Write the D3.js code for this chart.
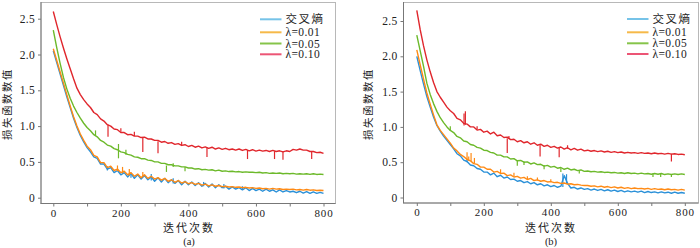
<!DOCTYPE html>
<html>
<head>
<meta charset="utf-8">
<script src="https://cdn.jsdelivr.net/npm/d3@7"></script>
<style>
  body { margin: 0; background: #fff; }
  svg { display: block; }
</style>
</head>
<body>
<svg id="chart" width="700" height="248"></svg>
<script>
// iterations sampled every 10 steps
var iters = d3.range(0, 801, 10);
var seriesNames = ["交叉熵", "λ=0.01", "λ=0.05", "λ=0.10"];
var xTicks = [0, 100, 200, 300, 400, 500, 600, 700, 800];
var yTicks = [0, 0.5, 1.0, 1.5, 2.0, 2.5];

// (a) left panel
var aCE = [2.05,1.89,1.73,1.57,1.41,1.26,1.11,0.98,0.87,0.78,0.70,
  0.64,0.57,0.55,0.47,0.47,0.40,0.42,0.35,0.38,0.32,
  0.35,0.29,0.34,0.27,0.32,0.26,0.31,0.25,0.29,0.23,
  0.28,0.22,0.27,0.21,0.25,0.20,0.24,0.18,0.23,0.18,
  0.22,0.17,0.21,0.16,0.20,0.15,0.19,0.14,0.18,0.14,
  0.16,0.12,0.15,0.12,0.14,0.11,0.14,0.10,0.13,0.10,
  0.12,0.09,0.12,0.09,0.11,0.08,0.11,0.08,0.10,0.08,
  0.09,0.07,0.09,0.065,0.085,0.06,0.08,0.06,0.075,0.06];
var a01 = [2.08,1.92,1.76,1.60,1.44,1.28,1.13,1.00,0.89,0.80,0.72,
  0.67,0.59,0.57,0.49,0.49,0.42,0.44,0.38,0.40,0.35,
  0.37,0.32,0.35,0.30,0.33,0.28,0.32,0.27,0.30,0.26,
  0.28,0.245,0.27,0.23,0.25,0.215,0.24,0.205,0.225,0.195,
  0.21,0.185,0.20,0.175,0.19,0.165,0.18,0.16,0.17,0.155,
  0.16,0.15,0.155,0.145,0.15,0.14,0.145,0.135,0.14,0.13,
  0.135,0.125,0.13,0.12,0.13,0.12,0.125,0.115,0.12,0.115,
  0.12,0.11,0.115,0.105,0.115,0.105,0.11,0.10,0.105,0.10];
var a05 = [2.34,2.10,1.88,1.68,1.52,1.39,1.28,1.19,1.11,1.04,0.98,
  0.935,0.88,0.85,0.80,0.775,0.735,0.72,0.685,0.67,0.64,
  0.63,0.605,0.595,0.57,0.565,0.545,0.545,0.525,0.52,0.50,
  0.50,0.48,0.48,0.46,0.46,0.445,0.445,0.43,0.43,0.415,
  0.415,0.40,0.405,0.39,0.395,0.385,0.39,0.375,0.385,0.37,
  0.375,0.365,0.37,0.36,0.365,0.355,0.36,0.355,0.355,0.35,
  0.355,0.345,0.35,0.34,0.345,0.34,0.345,0.335,0.34,0.335,
  0.34,0.33,0.335,0.33,0.335,0.325,0.335,0.325,0.33,0.325];
var a10 = [2.60,2.42,2.25,2.09,1.94,1.80,1.66,1.53,1.44,1.37,1.31,
  1.26,1.19,1.16,1.10,1.07,1.02,1.00,0.96,0.95,0.91,
  0.91,0.88,0.885,0.86,0.86,0.84,0.845,0.82,0.82,0.80,
  0.80,0.775,0.785,0.76,0.77,0.745,0.755,0.73,0.74,0.715,
  0.73,0.705,0.72,0.695,0.71,0.69,0.705,0.68,0.695,0.675,
  0.69,0.67,0.68,0.665,0.68,0.66,0.675,0.655,0.67,0.65,
  0.665,0.65,0.66,0.645,0.66,0.645,0.655,0.64,0.655,0.645,
  0.675,0.665,0.68,0.665,0.665,0.645,0.645,0.63,0.635,0.62];

// single-step spikes: [iteration, from, to]
var aCESpikes = [[160,0.38,0.44],[230,0.28,0.35],[290,0.24,0.33],[355,0.20,0.27],[445,0.16,0.22],[505,0.13,0.19],[560,0.11,0.16]];
var a01Spikes = [[190,0.37,0.45],[205,0.34,0.43],[225,0.31,0.40],[265,0.29,0.36]];
var a05Spikes = [[125,0.87,0.94],[193,0.55,0.75],[215,0.60,0.67],[335,0.36,0.45],[355,0.43,0.48],[390,0.37,0.43]];
var a10Spikes = [[162,0.85,1.02],[200,0.92,0.97],[240,0.86,0.92],[265,0.64,0.84],[310,0.62,0.79],[380,0.735,0.78],
  [455,0.57,0.70],[575,0.54,0.665],[655,0.54,0.65],[680,0.53,0.65],[765,0.54,0.64]];

// (b) right panel
var bCE = [2.00,1.80,1.61,1.43,1.28,1.14,1.02,0.94,0.87,0.81,0.75,
  0.69,0.62,0.59,0.53,0.51,0.46,0.45,0.41,0.40,0.36,
  0.36,0.32,0.345,0.295,0.315,0.275,0.29,0.255,0.26,0.23,
  0.24,0.21,0.225,0.195,0.21,0.18,0.195,0.165,0.18,0.155,
  0.17,0.145,0.16,0.31,0.20,0.135,0.145,0.12,0.135,0.115,
  0.125,0.105,0.12,0.10,0.115,0.095,0.11,0.09,0.105,0.085,
  0.10,0.08,0.095,0.08,0.09,0.075,0.09,0.07,0.085,0.07,
  0.08,0.065,0.08,0.065,0.075,0.06,0.075,0.06,0.07,0.06];
var b01 = [2.09,1.88,1.68,1.48,1.32,1.17,1.03,0.95,0.89,0.83,0.77,
  0.70,0.66,0.61,0.58,0.54,0.52,0.48,0.47,0.43,0.43,
  0.40,0.40,0.36,0.37,0.34,0.345,0.31,0.32,0.29,0.30,
  0.275,0.285,0.255,0.27,0.24,0.25,0.23,0.24,0.22,0.225,
  0.21,0.215,0.20,0.205,0.19,0.195,0.18,0.185,0.175,0.17,
  0.17,0.16,0.165,0.15,0.16,0.145,0.155,0.14,0.15,0.135,
  0.145,0.13,0.14,0.125,0.135,0.125,0.13,0.12,0.13,0.115,
  0.125,0.115,0.12,0.11,0.12,0.11,0.115,0.105,0.115,0.105];
var b05 = [2.30,2.08,1.86,1.62,1.46,1.33,1.22,1.13,1.06,1.00,0.95,
  0.92,0.865,0.845,0.80,0.79,0.75,0.74,0.71,0.70,0.67,
  0.665,0.64,0.63,0.60,0.60,0.575,0.575,0.545,0.55,0.52,
  0.525,0.50,0.505,0.475,0.49,0.465,0.47,0.445,0.455,0.43,
  0.44,0.415,0.425,0.40,0.415,0.39,0.40,0.38,0.39,0.37,
  0.375,0.365,0.37,0.36,0.365,0.355,0.36,0.35,0.355,0.345,
  0.35,0.34,0.35,0.34,0.345,0.335,0.345,0.335,0.34,0.33,
  0.34,0.33,0.34,0.325,0.335,0.325,0.335,0.325,0.335,0.325];
var b10 = [2.65,2.38,2.15,1.95,1.78,1.63,1.50,1.42,1.35,1.28,1.23,
  1.19,1.12,1.10,1.05,1.04,1.00,1.00,0.955,0.965,0.925,
  0.94,0.90,0.925,0.875,0.885,0.85,0.855,0.82,0.825,0.79,
  0.805,0.775,0.79,0.755,0.775,0.74,0.755,0.725,0.74,0.71,
  0.725,0.70,0.715,0.685,0.705,0.675,0.695,0.67,0.685,0.66,
  0.67,0.655,0.665,0.65,0.66,0.645,0.655,0.64,0.65,0.635,
  0.645,0.63,0.64,0.63,0.635,0.625,0.635,0.625,0.63,0.62,
  0.63,0.62,0.625,0.615,0.625,0.615,0.62,0.61,0.615,0.605];

var bCESpikes = [[150,0.50,0.55],[436,0.15,0.34],[447,0.19,0.33]];
var b01Spikes = [[150,0.53,0.64],[155,0.52,0.58],[162,0.51,0.63],[172,0.48,0.56],[250,0.345,0.40],[290,0.30,0.35],
  [330,0.26,0.30],[360,0.24,0.285],[400,0.22,0.26]];
var b05Spikes = [[100,0.95,1.01],[300,0.45,0.53],[320,0.46,0.51],[380,0.40,0.46],[430,0.36,0.415],[485,0.34,0.39],
  [705,0.29,0.34],[728,0.29,0.34],[760,0.29,0.33]];
var b10Spikes = [[141,1.02,1.19],[145,1.03,1.22],[180,0.965,1.01],[270,0.63,0.84],[275,0.83,0.87],[368,0.58,0.75],
  [425,0.57,0.71],[450,0.69,0.74],[760,0.51,0.62]];

var lineColors = ["#2a90d8", "#ff8a14", "#6cb92a", "#e0262c"];
var legendColors = ["#76c3e8", "#f6b949", "#86c44a", "#ec5575"];
var serif = "'Liberation Serif', 'Times New Roman', 'DejaVu Serif', serif";
var cjk = "'Noto Sans CJK SC', 'Liberation Serif', sans-serif";

var svg = d3.select("#chart");

function drawPanel(p) {
  var x = d3.scaleLinear().domain([0, 800]).range(p.xr);
  var y = d3.scaleLinear().domain([0, 2.5]).range(p.yr);
  var g = svg.append("g");

  // frame
  g.append("rect")
    .attr("x", p.box[0] + 0.5).attr("y", p.box[1] + 0.5)
    .attr("width", p.box[2] - p.box[0]).attr("height", p.box[3] - p.box[1])
    .attr("fill", "none").attr("stroke", "#b8b8b8").attr("stroke-width", 1);
  g.append("line")
    .attr("x1", p.box[0] + 0.5).attr("x2", p.box[0] + 0.5)
    .attr("y1", p.box[1]).attr("y2", p.box[3] + 0.5)
    .attr("stroke", "#777");
  g.append("line")
    .attr("x1", p.box[0]).attr("x2", p.box[2] + 0.5)
    .attr("y1", p.box[3] + 0.5).attr("y2", p.box[3] + 0.5)
    .attr("stroke", "#777");

  var xAxis = g.append("g")
    .attr("transform", "translate(0," + (p.box[3] + 0.5) + ")")
    .call(d3.axisBottom(x).tickValues(xTicks).tickSize(3).tickPadding(2.5)
      .tickFormat(function(d) { return d % 200 === 0 ? d : ""; }));
  xAxis.select(".domain").remove();
  xAxis.selectAll("line").attr("stroke", "#777");
  xAxis.selectAll("text")
    .style("font-family", serif).style("font-size", "11px")
    .style("letter-spacing", "0.8px").attr("fill", "#222");

  var yAxis = g.append("g")
    .attr("transform", "translate(" + (p.box[0] + 0.5) + ",0)")
    .call(d3.axisLeft(y).tickValues(yTicks).tickSize(3).tickPadding(3)
      .tickFormat(function(d) { return d === 0 ? "0" : d3.format(".1f")(d); }));
  yAxis.select(".domain").remove();
  yAxis.selectAll("line").attr("stroke", "#777");
  yAxis.selectAll("text")
    .style("font-family", serif).style("font-size", "11.5px")
    .style("letter-spacing", "0.3px").attr("fill", "#222");

  var line = d3.line()
    .x(function(d) { return x(d[0]); })
    .y(function(d) { return y(d[1]); });

  p.series.forEach(function(s, k) {
    g.append("path")
      .datum(iters.map(function(it, j) { return [it, s[j]]; }))
      .attr("d", line)
      .attr("fill", "none")
      .attr("stroke", lineColors[k])
      .attr("stroke-width", 1.4)
      .attr("stroke-linejoin", "round");
    g.selectAll(null)
      .data(p.spikes[k])
      .enter().append("path")
      .attr("d", function(d) { return line([[d[0], d[1]], [d[0], d[2]]]); })
      .attr("stroke", lineColors[k])
      .attr("stroke-width", 1.2);
  });

  // legend
  var leg = g.append("g");
  seriesNames.forEach(function(name, k) {
    var yy = p.legY[k];
    leg.append("line")
      .attr("x1", p.legX).attr("x2", p.legX + 21.5)
      .attr("y1", yy).attr("y2", yy)
      .attr("stroke", legendColors[k]).attr("stroke-width", 2);
    leg.append("text")
      .attr("x", p.legX + 25.5).attr("y", yy)
      .attr("dy", "0.35em")
      .attr("fill", "#222")
      .style("font-family", k === 0 ? cjk : serif)
      .style("font-size", "11.5px")
      .style("letter-spacing", k === 0 ? "1.5px" : "0.4px")
      .text(name);
  });

  // axis titles
  g.append("text")
    .attr("x", p.titleX).attr("y", 228.5)
    .attr("text-anchor", "middle").attr("dy", "0.35em")
    .attr("fill", "#222")
    .style("font-family", cjk)
    .style("font-size", "11px").style("letter-spacing", "2px")
    .text("迭代次数");
  g.append("text")
    .attr("x", p.titleX).attr("y", 241)
    .attr("text-anchor", "middle").attr("dy", "0.35em")
    .attr("fill", "#222")
    .style("font-family", serif)
    .style("font-size", "10.5px")
    .text(p.tag);
  g.append("text")
    .attr("transform", "translate(" + p.yTitleX + ",104) rotate(-90)")
    .attr("text-anchor", "middle").attr("dy", "0.35em")
    .attr("fill", "#222")
    .style("font-family", cjk)
    .style("font-size", "10.5px").style("letter-spacing", "1.5px")
    .text("损失函数数值");
}

drawPanel({
  box: [40.5, 2, 335, 203],
  xr: [53.3, 323.5], yr: [197.7, 18.7],
  series: [aCE, a01, a05, a10],
  spikes: [aCESpikes, a01Spikes, a05Spikes, a10Spikes],
  legX: 260, legY: [19.3, 32.3, 43.5, 54.3],
  titleX: 189, yTitleX: 7.5, tag: "(a)"
});
drawPanel({
  box: [403, 2, 698, 202.5],
  xr: [416.8, 684.8], yr: [197.5, 21],
  series: [bCE, b01, b05, b10],
  spikes: [bCESpikes, b01Spikes, b05Spikes, b10Spikes],
  legX: 627, legY: [19, 32.3, 43.3, 54],
  titleX: 551, yTitleX: 368, tag: "(b)"
});
</script>
</body>
</html>
